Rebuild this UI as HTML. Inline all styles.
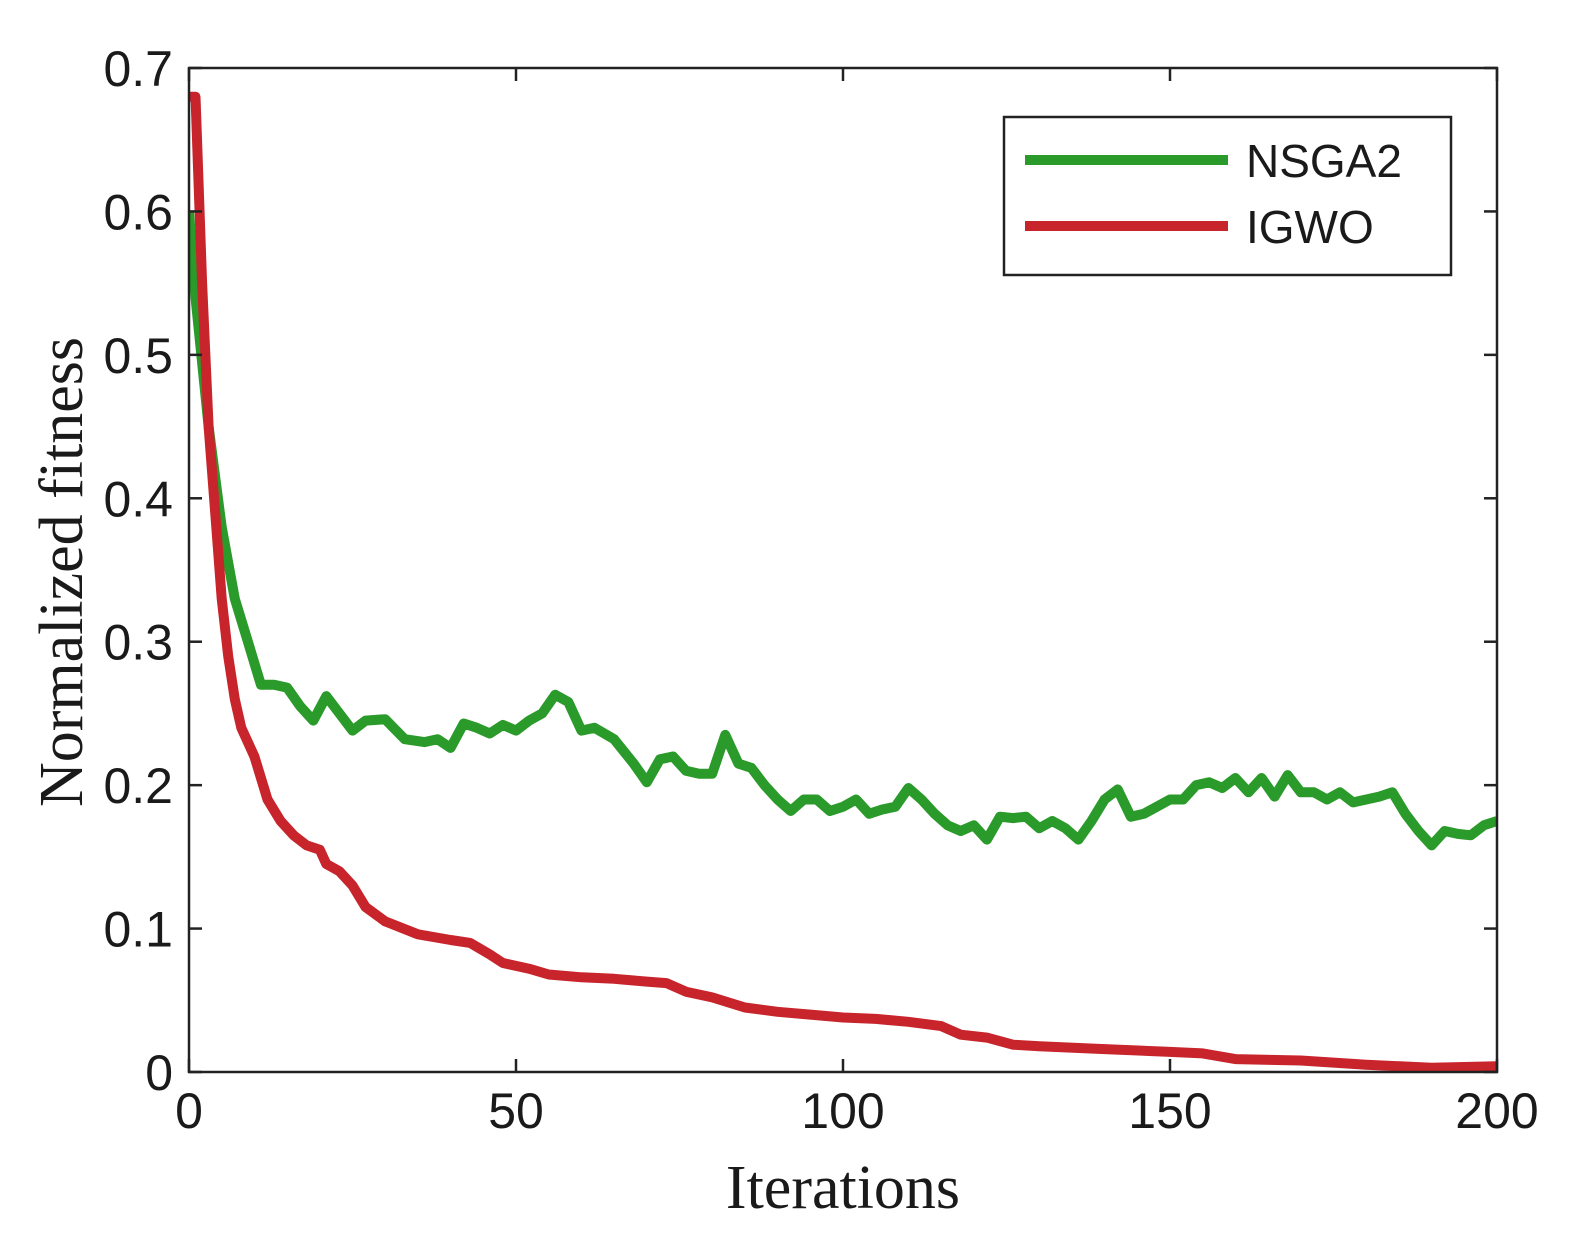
<!DOCTYPE html>
<html><head><meta charset="utf-8"><style>
body{margin:0;background:#fff}
svg{display:block}
.t{font-family:"Liberation Sans",sans-serif;font-size:50px;fill:#1a1a1a}
.lt{font-family:"Liberation Sans",sans-serif;font-size:46px;fill:#1a1a1a}
.s{font-family:"Liberation Serif",serif;font-size:62px;fill:#1a1a1a}
</style></head><body>
<svg id="c" width="1573" height="1249" viewBox="0 0 1573 1249"></svg>
<script>
const iterNSGA=[0,1,3,5,7,9,11,13,15,17,19,21,23,25,27,30,33,36,38,40,42,44,46,48,50,52,54,56,58,60,62,65,68,70,72,74,76,78,80,82,84,86,88,90,92,94,96,98,100,102,104,106,108,110,112,114,116,118,120,122,124,126,128,130,132,134,136,138,140,142,144,146,148,150,152,154,156,158,160,162,164,166,168,170,172,174,176,178,180,182,184,186,188,190,192,194,196,198,200];
const valNSGA=[0.60,0.54,0.45,0.38,0.33,0.30,0.27,0.27,0.268,0.255,0.245,0.262,0.25,0.238,0.245,0.246,0.232,0.23,0.232,0.226,0.243,0.24,0.236,0.242,0.238,0.245,0.25,0.263,0.258,0.238,0.24,0.232,0.215,0.202,0.218,0.22,0.21,0.208,0.208,0.235,0.215,0.212,0.20,0.19,0.182,0.19,0.19,0.182,0.185,0.19,0.18,0.183,0.185,0.198,0.19,0.18,0.172,0.168,0.172,0.162,0.178,0.177,0.178,0.17,0.175,0.17,0.162,0.175,0.19,0.197,0.178,0.18,0.185,0.19,0.19,0.2,0.202,0.198,0.205,0.195,0.205,0.192,0.207,0.195,0.195,0.19,0.195,0.188,0.19,0.192,0.195,0.18,0.168,0.158,0.168,0.166,0.165,0.172,0.175];
const iterIGWO=[0,1,2,3,4,5,6,7,8,10,12,14,16,18,20,21,23,25,27,30,35,40,43,46,48,52,55,60,65,70,73,76,80,85,90,95,100,105,110,115,118,122,126,130,140,150,155,160,170,180,190,200];
const valIGWO=[0.68,0.68,0.55,0.45,0.39,0.33,0.29,0.26,0.24,0.22,0.19,0.175,0.165,0.158,0.155,0.145,0.14,0.13,0.115,0.105,0.096,0.092,0.09,0.082,0.076,0.072,0.068,0.066,0.065,0.063,0.062,0.056,0.052,0.045,0.042,0.04,0.038,0.037,0.035,0.032,0.026,0.024,0.019,0.018,0.016,0.014,0.013,0.009,0.008,0.005,0.003,0.004];
const xTicks=[0,50,100,150,200];
const yTicks=[0,0.1,0.2,0.3,0.4,0.5,0.6,0.7];
const yLabels=["0","0.1","0.2","0.3","0.4","0.5","0.6","0.7"];

const L=189,R=1497,T=68,B=1072;
const xs=v=>L+(v-0)/(200-0)*(R-L);
const ys=v=>B-(v-0)/(0.7-0)*(B-T);
const svg=document.getElementById('c');
const NS='http://www.w3.org/2000/svg';
function mk(tag,attrs,parent){const e=document.createElementNS(NS,tag);for(const k in attrs)e.setAttribute(k,attrs[k]);(parent||svg).appendChild(e);return e;}

const clip=mk('clipPath',{id:'pc'});mk('rect',{x:L,y:T-20,width:R-L,height:B-T+20},clip);

function series(it,vals,color,name){
  const d=it.map((x,i)=>(i?'L':'M')+xs(x).toFixed(1)+' '+ys(vals[i]).toFixed(1)).join(' ');
  const p=mk('path',{d:d,fill:'none',stroke:color,'stroke-width':10,'stroke-linejoin':'round','clip-path':'url(#pc)'});
  
  
}
series(iterNSGA,valNSGA,'#2a9a2a','nsga2-line');
series(iterIGWO,valIGWO,'#c8242c','igwo-line');

const frame=mk('rect',{x:L,y:T,width:R-L,height:B-T,fill:'none',stroke:'#222','stroke-width':2.5});



xTicks.forEach(v=>{
  const x=xs(v);
  mk('line',{x1:x,y1:B,x2:x,y2:B-13,stroke:'#222','stroke-width':2.5});
  mk('line',{x1:x,y1:T,x2:x,y2:T+13,stroke:'#222','stroke-width':2.5});
  const t=mk('text',{x:x,y:B+56,'text-anchor':'middle',class:'t'});t.textContent=v;
  
  
});
yTicks.forEach((v,i)=>{
  const y=ys(v);
  mk('line',{x1:L,y1:y,x2:L+13,y2:y,stroke:'#222','stroke-width':2.5});
  mk('line',{x1:R,y1:y,x2:R-13,y2:y,stroke:'#222','stroke-width':2.5});
  const t=mk('text',{x:L-16,y:y+18,'text-anchor':'end',class:'t'});t.textContent=yLabels[i];
  
  
});
const xt=mk('text',{x:843,y:1208,'text-anchor':'middle',class:'s'});xt.textContent='Iterations';


const yt=mk('text',{x:0,y:0,'text-anchor':'middle',class:'s',transform:'translate(82,572) rotate(-90)'});yt.textContent='Normalized fitness';



const lg=mk('g',{});


mk('rect',{x:1004,y:117,width:447,height:158,fill:'#fff',stroke:'#222','stroke-width':2.5},lg);
[['NSGA2','#2a9a2a',160],['IGWO','#c8242c',226]].forEach(([n,c,y])=>{
  const g=mk('g',{},lg);
  
  
  mk('line',{x1:1025,y1:y,x2:1228,y2:y,stroke:c,'stroke-width':10},g);
  const t=mk('text',{x:1246,y:y+17,class:'lt'},g);t.textContent=n;
});
</script>
</body></html>
